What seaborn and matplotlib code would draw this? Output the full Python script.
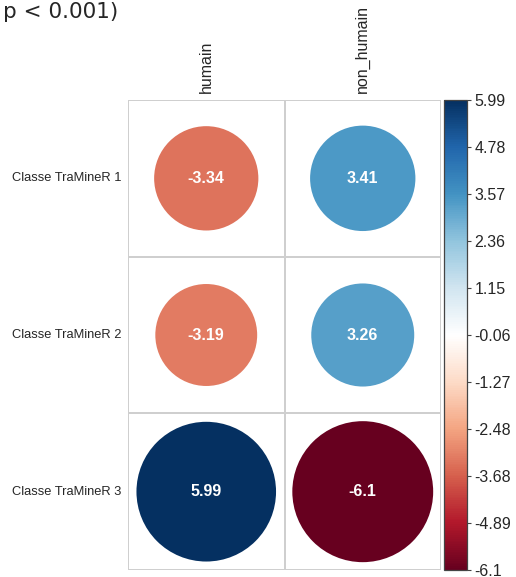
import numpy as np
import pandas as pd
import matplotlib
matplotlib.use('Agg')
import matplotlib.pyplot as plt
from matplotlib.colors import LinearSegmentedColormap, Normalize
from matplotlib.patches import Circle
import seaborn as sns

sns.set_theme(style='white')
plt.rcParams['font.family'] = ['Liberation Sans', 'DejaVu Sans']

# data
rows = ['Classe TraMineR 1', 'Classe TraMineR 2', 'Classe TraMineR 3']
cols = ['humain', 'non_humain']
humain = [-3.34, -3.19, 5.99]
non_humain = [3.41, 3.26, -6.1]
cbar_ticks = [5.99, 4.78, 3.57, 2.36, 1.15, -0.06, -1.27, -2.48, -3.68, -4.89, -6.1]

vmin, vmax = -6.1, 5.99

df = pd.DataFrame({'humain': humain, 'non_humain': non_humain}, index=rows)

# corrplot RdBu palette
cmap = LinearSegmentedColormap.from_list('rdbu', [
    '#67001F', '#B2182B', '#D6604D', '#F4A582', '#FDDBC7', '#FFFFFF',
    '#D1E5F0', '#92C5DE', '#4393C3', '#2166AC', '#053061'])
norm = Normalize(vmin=vmin, vmax=vmax)

W, H = 516, 577
fig = plt.figure(figsize=(W / 100, H / 100), dpi=100)
ax = fig.add_axes([128 / W, (H - 570) / H, (441 - 128) / W, (570 - 100) / H])
cax = fig.add_axes([444 / W, (H - 570) / H, (467 - 444) / W, (570 - 100) / H])

sns.heatmap(df, cmap=cmap, vmin=vmin, vmax=vmax, linewidths=1.2,
            linecolor='#cfcfcf', cbar_ax=cax, ax=ax, square=False)

# white cells, circles on top
mesh = ax.collections[0]
mesh.set_array(None)
mesh.set_facecolor('white')

absmax = np.abs(df.values).max()
for i, r in enumerate(rows):
    for j, c in enumerate(cols):
        v = df.loc[r, c]
        rad = 0.45 * np.sqrt(abs(v) / absmax)
        ax.add_patch(Circle((j + 0.5, i + 0.5), rad, facecolor=cmap(norm(v)),
                            edgecolor='none', zorder=3))
        ax.text(j + 0.5, i + 0.5, f'{v:g}', ha='center', va='center',
                color='white', fontsize=11.5, fontweight='bold', zorder=4)

ax.xaxis.tick_top()
ax.set_xticklabels(cols, rotation=90, fontsize=11.5, va='bottom')
ax.set_yticklabels(rows, rotation=0, fontsize=9.3)
ax.tick_params(axis='both', length=0, pad=5)
ax.set_xlabel('')
ax.set_ylabel('')

cb = mesh.colorbar
cb.set_ticks(cbar_ticks)
cb.set_ticklabels([f'{t:g}' for t in cbar_ticks])
cax.tick_params(axis='y', right=True, length=3, width=0.8, pad=2.5,
                labelsize=11.5, color='#444444')
cb.outline.set_visible(True)
cb.outline.set_edgecolor('#444444')
cb.outline.set_linewidth(0.9)

fig.text(3 / W, 1 - 2 / H, 'p < 0.001)', fontsize=15.5, va='top', ha='left',
         family=['DejaVu Sans'])

fig.savefig('out.png', dpi=100)
